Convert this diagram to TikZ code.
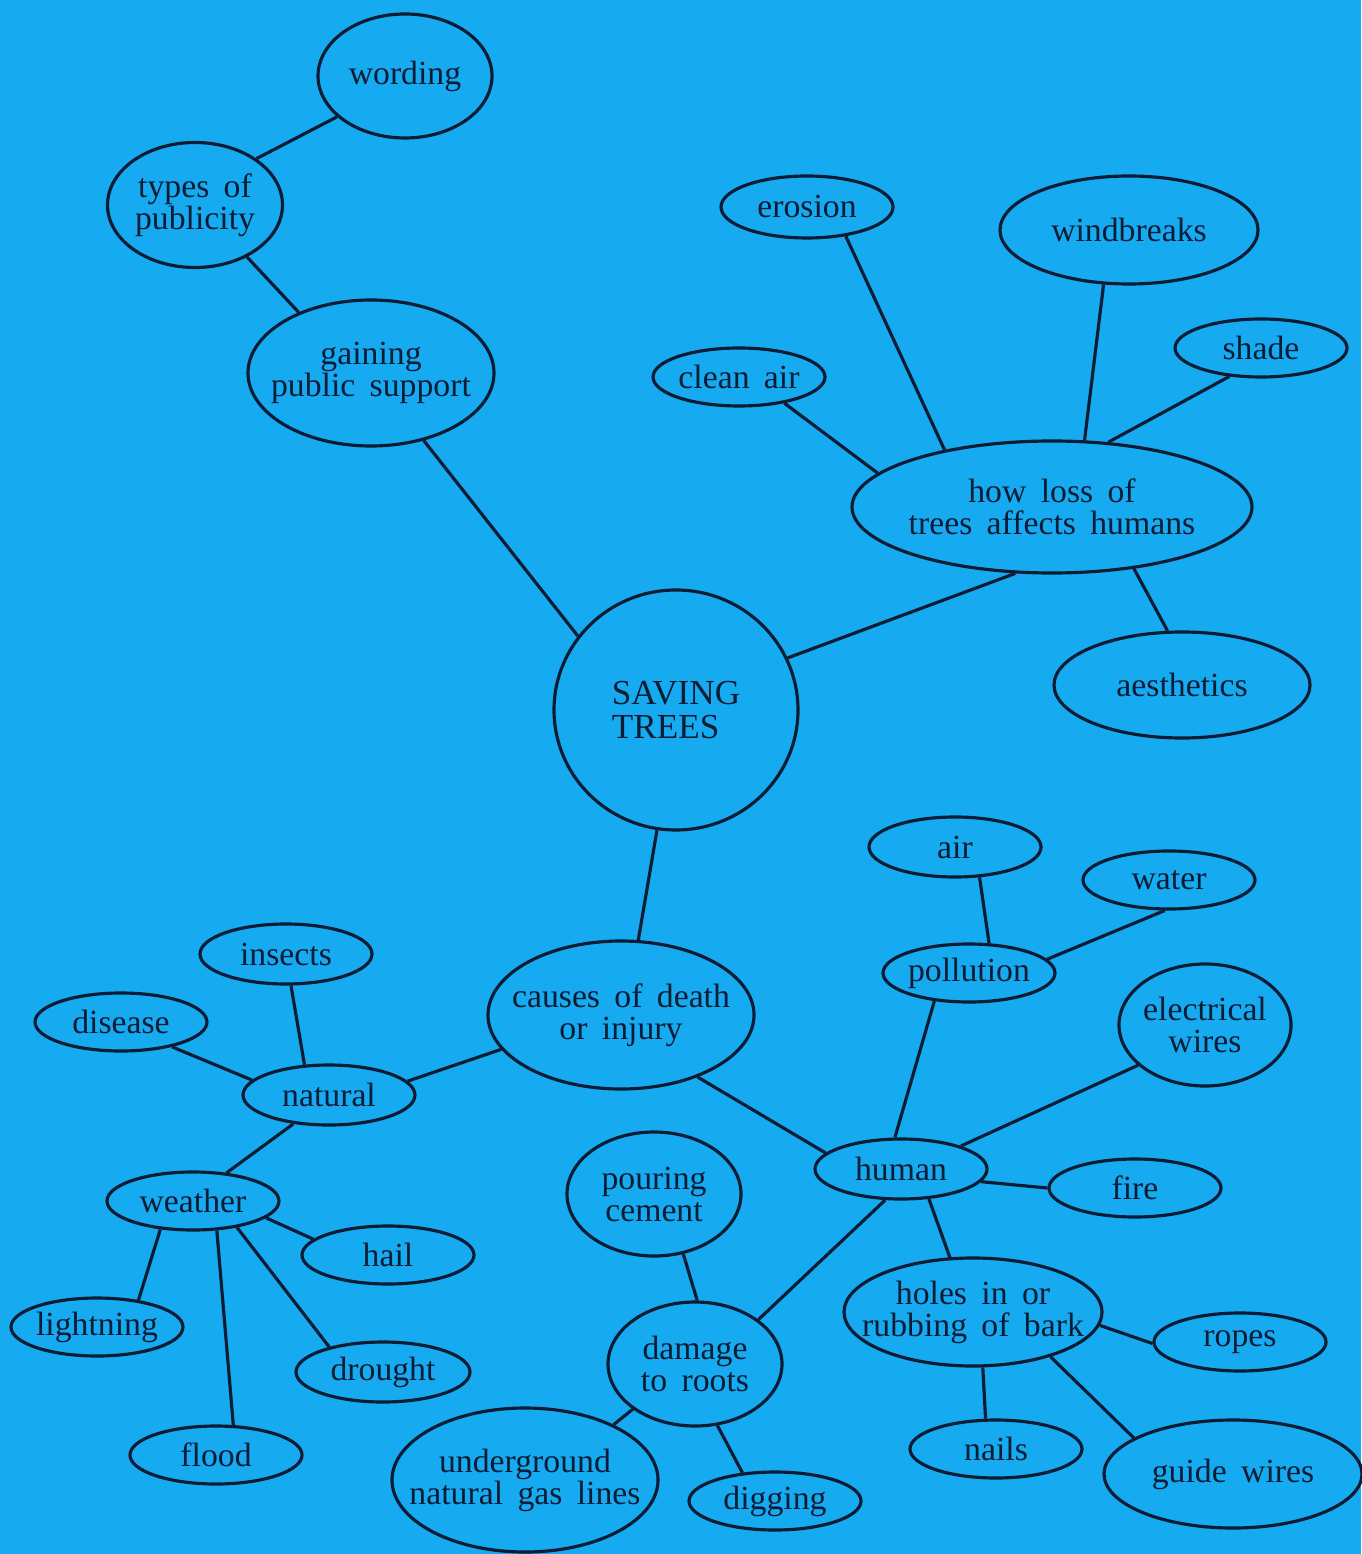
\documentclass[tikz,border=0pt]{standalone}
\usepackage{fontspec}
\setmainfont{Liberation Serif}[WordSpace=1.7]
\usetikzlibrary{shapes.geometric}
\definecolor{paper}{RGB}{22,170,240}
\definecolor{ink}{RGB}{12,28,52}
\begin{document}
\begin{tikzpicture}[
                bubble/.style={draw=ink,ellipse,line width=0.9pt,inner sep=0pt},
                sz/.style 2 args={minimum width=#1cm,minimum height=#2cm},
                every label/.style={align=center,text=ink,inner sep=0pt,font=\fontsize{9.6}{9.1}\selectfont},
                link/.style={draw=ink,line width=0.9pt}
            ]
                \fill[paper] (0,0) rectangle (13.61,-15.54);
                \useasboundingbox (0,0) rectangle (13.61,-15.54);

                \node[bubble,sz={1.74}{1.24},label={center:wording}] (wording) at (4.05,-0.76) {};
                \node[bubble,sz={1.75}{1.25},label={center:types of\\publicity}] (types) at (1.95,-2.05) {};
                \node[bubble,sz={2.46}{1.46},label={center:gaining\\public support}] (gaining) at (3.71,-3.73) {};

                \node[bubble,sz={2.44}{2.40},label={[align=left,font=\fontsize{10}{9.6}\selectfont]center:SAVING\\TREES}] (saving) at (6.76,-7.10) {};

                \node[bubble,sz={4.00}{1.32},label={center:how loss of\\trees affects humans}] (loss) at (10.52,-5.07) {};
                \node[bubble,sz={1.72}{0.62},label={center:erosion}] (erosion) at (8.07,-2.07) {};
                \node[bubble,sz={2.58}{1.08},label={center:windbreaks}] (windbreaks) at (11.29,-2.30) {};
                \node[bubble,sz={1.72}{0.58},label={center:shade}] (shade) at (12.61,-3.48) {};
                \node[bubble,sz={1.72}{0.58},label={center:clean air}] (cleanair) at (7.39,-3.77) {};
                \node[bubble,sz={2.56}{1.06},label={center:aesthetics}] (aesthetics) at (11.82,-6.85) {};

                \node[bubble,sz={2.66}{1.48},label={center:causes of death\\or injury}] (causes) at (6.21,-10.15) {};

                \node[bubble,sz={1.72}{0.60},label={center:natural}] (natural) at (3.29,-10.95) {};
                \node[bubble,sz={1.72}{0.60},label={center:insects}] (insects) at (2.86,-9.54) {};
                \node[bubble,sz={1.72}{0.58},label={center:disease}] (disease) at (1.21,-10.22) {};
                \node[bubble,sz={1.72}{0.58},label={center:weather}] (weather) at (1.93,-12.01) {};
                \node[bubble,sz={1.72}{0.58},label={center:hail}] (hail) at (3.88,-12.55) {};
                \node[bubble,sz={1.72}{0.58},label={center:lightning}] (lightning) at (0.97,-13.27) {};
                \node[bubble,sz={1.74}{0.60},label={center:drought}] (drought) at (3.83,-13.72) {};
                \node[bubble,sz={1.72}{0.58},label={center:flood}] (flood) at (2.16,-14.55) {};

                \node[bubble,sz={1.72}{0.60},label={center:human}] (human) at (9.01,-11.69) {};
                \node[bubble,sz={1.72}{0.58},label={center:pollution}] (pollution) at (9.69,-9.73) {};
                \node[bubble,sz={1.72}{0.60},label={center:air}] (air) at (9.55,-8.47) {};
                \node[bubble,sz={1.72}{0.58},label={center:water}] (water) at (11.69,-8.80) {};
                \node[bubble,sz={1.72}{1.22},label={center:electrical\\wires}] (elwires) at (12.05,-10.25) {};
                \node[bubble,sz={1.72}{0.58},label={center:fire}] (fire) at (11.35,-11.88) {};
                \node[bubble,sz={2.58}{1.08},label={center:holes in or\\rubbing of bark}] (holes) at (9.73,-13.12) {};
                \node[bubble,sz={1.72}{0.58},label={center:ropes}] (ropes) at (12.40,-13.42) {};
                \node[bubble,sz={1.72}{0.58},label={center:nails}] (nails) at (9.96,-14.49) {};
                \node[bubble,sz={2.58}{1.08},label={center:guide wires}] (guidewires) at (12.33,-14.74) {};

                \node[bubble,sz={1.74}{1.24},label={center:damage\\to roots}] (roots) at (6.95,-13.64) {};
                \node[bubble,sz={1.74}{1.24},label={center:pouring\\cement}] (cement) at (6.54,-11.94) {};
                \node[bubble,sz={2.66}{1.44},label={center:underground\\natural gas lines}] (gaslines) at (5.25,-14.80) {};
                \node[bubble,sz={1.72}{0.58},label={center:digging}] (digging) at (7.75,-15.01) {};

                \draw[link] (wording.211) -- (types.37);
                \draw[link] (types.315) -- (gaining.140);
                \draw[link] (gaining.308) -- (saving.143);
                \draw[link] (saving.25) -- (loss.241);
                \draw[link] (saving.261) -- (causes.77);

                \draw[link] (loss.169) -- (cleanair.330);
                \draw[link] (loss.152) -- (erosion.323);
                \draw[link] (loss.64) -- (windbreaks.245);
                \draw[link] (loss.49) -- (shade.222);
                \draw[link] (loss.323) -- (aesthetics.105);

                \draw[link] (causes.196) -- (natural.10);
                \draw[link] (causes.321) -- (human.168);

                \draw[link] (natural.129) -- (insects.279);
                \draw[link] (natural.169) -- (disease.334);
                \draw[link] (natural.219) -- (weather.40);
                \draw[link] (weather.347) -- (hail.168);
                \draw[link] (weather.221) -- (lightning.33);
                \draw[link] (weather.329) -- (drought.155);
                \draw[link] (weather.309) -- (flood.60);

                \draw[link] (human.101) -- (pollution.219);
                \draw[link] (pollution.56) -- (air.309);
                \draw[link] (pollution.10) -- (water.262);
                \draw[link] (human.21) -- (elwires.211);
                \draw[link] (human.351) -- (fire.180);
                \draw[link] (human.313) -- (holes.113);
                \draw[link] (human.243) -- (roots.35);

                \draw[link] (holes.354) -- (ropes.181);
                \draw[link] (holes.280) -- (nails.109);
                \draw[link] (holes.330) -- (guidewires.160);

                \draw[link] (roots.88) -- (cement.296);
                \draw[link] (roots.216) -- (gaslines.32);
                \draw[link] (roots.290) -- (digging.139);
            \end{tikzpicture}
\end{document}
